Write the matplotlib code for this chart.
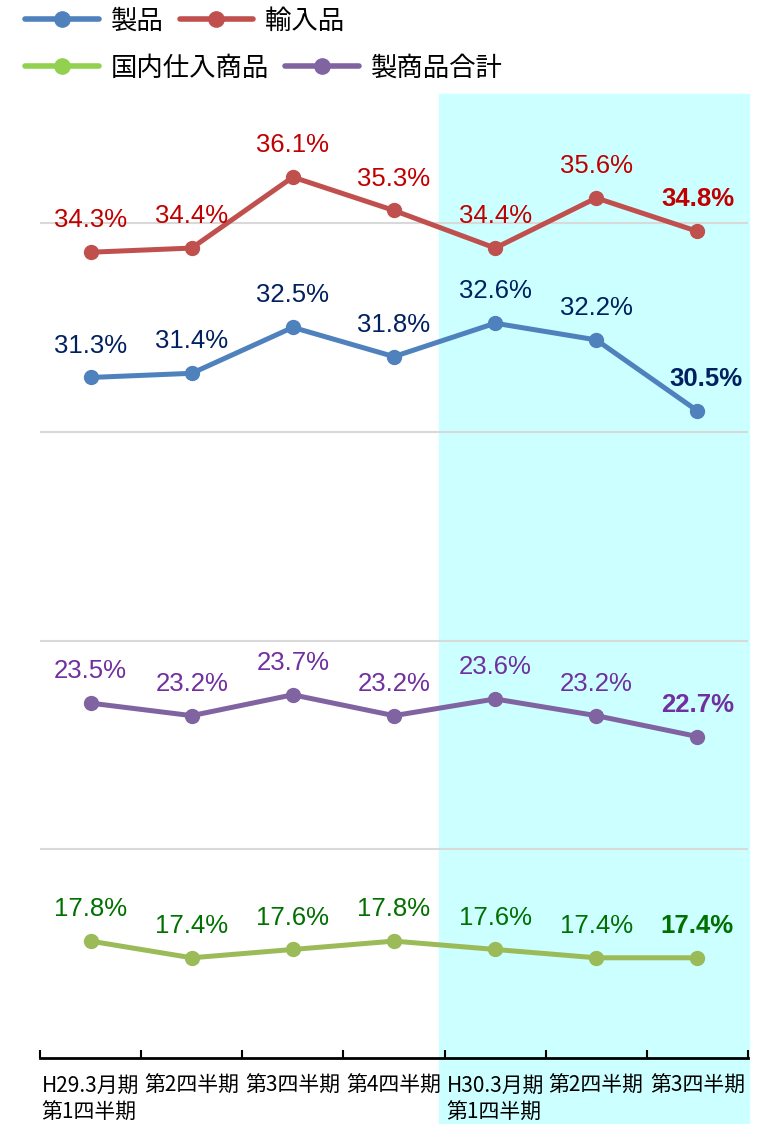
import matplotlib
matplotlib.use('Agg')
import matplotlib.pyplot as plt
from matplotlib.lines import Line2D
from matplotlib.patches import Rectangle

# quarter labels on the x axis
quarters = ['H29.3月期\n第1四半期', '第2四半期', '第3四半期', '第4四半期',
            'H30.3月期\n第1四半期', '第2四半期', '第3四半期']

# ratios in percent
seihin = [31.3, 31.4, 32.5, 31.8, 32.6, 32.2, 30.5]
yunyu = [34.3, 34.4, 36.1, 35.3, 34.4, 35.6, 34.8]
kokunai = [17.8, 17.4, 17.6, 17.8, 17.6, 17.4, 17.4]
goukei = [23.5, 23.2, 23.7, 23.2, 23.6, 23.2, 22.7]

series = [
    ('製品', seihin, '#4F81BD', '#4F81BD', '#002060'),
    ('輸入品', yunyu, '#C0504D', '#C0504D', '#C00000'),
    ('国内仕入商品', kokunai, '#9BBB59', '#92D050', '#007000'),
    ('製商品合計', goukei, '#8064A2', '#8064A2', '#7030A0'),
]

W, H = 765, 1124
fig = plt.figure(figsize=(W / 100, H / 100), dpi=100)
ax = fig.add_axes([40 / W, 1 - 1058 / H, 708 / W, (1058 - 94) / H])
ax.set_facecolor('none')

# highlighted latest period
fig.patches.append(Rectangle((439 / W, 0), 310 / W, 1 - 94 / H,
                             transform=fig.transFigure, color='#CCFFFF', zorder=-1))

x = list(range(len(quarters)))
num_font = ['Liberation Sans', 'DejaVu Sans']

for name, vals, col, legcol, txtcol in series:
    ax.plot(x, vals, color=col, lw=3.6, marker='o', ms=10, zorder=3,
            solid_capstyle='round')
    for i, v in enumerate(vals):
        last = i == len(vals) - 1
        dx = 6 if (last and name == '製品') else 0
        ax.annotate(f'{v:.1f}%', (i, v), xytext=(dx, 23), textcoords='offset points',
                    ha='center', va='center', fontsize=18.5, color=txtcol,
                    family=num_font, fontweight='bold' if last else 'normal')

ax.set_xlim(-0.5, len(quarters) - 0.5)
ax.set_ylim(15, 38.09)
ax.set_yticks([20, 25, 30, 35])
ax.yaxis.grid(True, color='#D9D9D9', lw=1.5)
ax.tick_params(axis='y', length=0, labelleft=False)
ax.set_axisbelow(True)

ax.set_xticks(x)
ax.set_xticklabels(quarters, family=['Noto Sans CJK JP'], fontsize=15,
                   linespacing=1.3, multialignment='left')
ax.tick_params(axis='x', which='major', length=0, pad=12)
ax.set_xticks([i - 0.5 for i in range(len(quarters) + 1)], minor=True)
ax.tick_params(axis='x', which='minor', direction='in', length=6, width=1.5, color='black')

for s in ['left', 'right', 'top']:
    ax.spines[s].set_visible(False)
ax.spines['bottom'].set_linewidth(2)

# legend in two rows
def handle(c, label):
    return Line2D([], [], color=c, lw=4, marker='o', ms=11, label=label,
                  solid_capstyle='round')

rows = [series[:2], series[2:]]
row_y = [21, 68]
for row, yy in zip(rows, row_y):
    hs = [handle(s[3], s[0]) for s in row]
    leg = fig.legend(handles=hs, loc='center left', bbox_to_anchor=(12 / W, 1 - yy / H),
                     ncol=2, frameon=False, borderpad=0, handlelength=2.8,
                     handletextpad=0.45, columnspacing=0.6,
                     prop={'family': ['Noto Sans CJK JP'], 'size': 19})

fig.savefig('out.png', dpi=100)
